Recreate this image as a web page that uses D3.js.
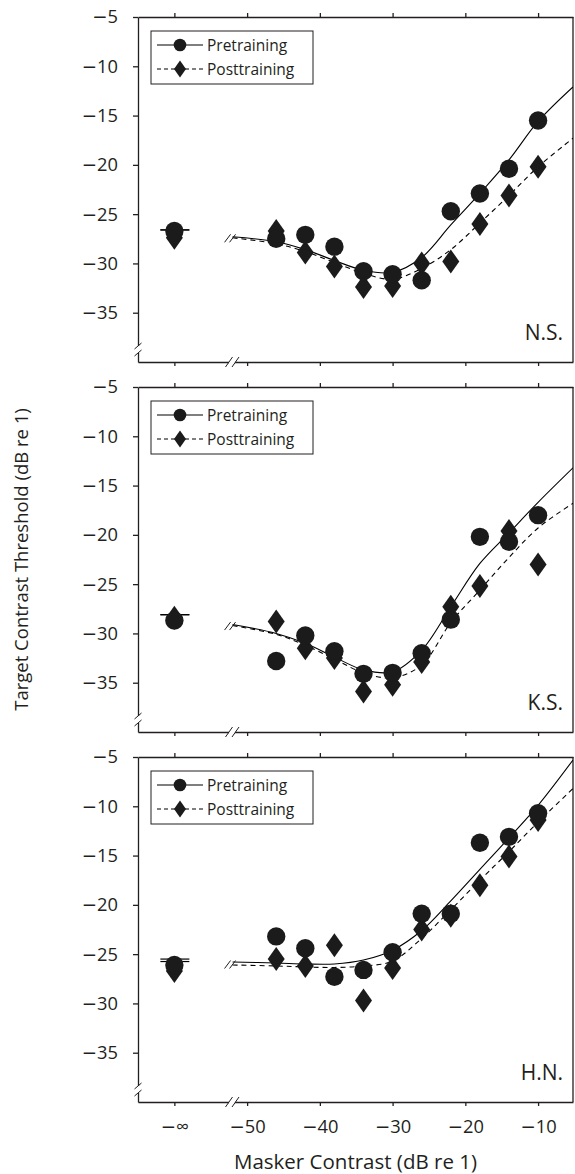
<!DOCTYPE html>
<html>
<head>
<meta charset="utf-8">
<script src="https://cdn.jsdelivr.net/npm/d3@7"></script>
<style>
  body { margin: 0; background: #fff; }
  text { font-family: "Open Sans", sans-serif; fill: #231f20; }
</style>
</head>
<body>
<div id="chart"></div>
<script>
// Data (dB re 1)
const subjects = ["N.S.", "K.S.", "H.N."];
const maskerContrast = [-46, -42, -38, -34, -30, -26, -22, -18, -14, -10];

const preNS  = [-27.5, -27.1, -28.3, -30.8, -31.1, -31.7, -24.7, -22.9, -20.4, -15.5];
const postNS = [-26.7, -28.9, -30.3, -32.4, -32.3, -30.0, -29.8, -26.0, -23.1, -20.2];
const preKS  = [-32.8, -30.2, -31.8, -34.1, -34.0, -32.0, -28.6, -20.2, -20.7, -18.0];
const postKS = [-28.8, -31.5, -32.5, -35.9, -35.2, -32.9, -27.3, -25.2, -19.6, -23.0];
const preHN  = [-23.2, -24.4, -27.3, -26.6, -24.8, -20.9, -20.9, -13.7, -13.1, -10.7];
const postHN = [-25.5, -26.2, -24.1, -29.7, -26.4, -22.5, -21.1, -18.0, -15.1, -11.4];

// thresholds with no masker (masker contrast −∞)
const preZero     = [-26.7, -28.7, -26.1];
const postZero    = [-27.4, -28.4, -26.7];
const preFitZero  = [-26.6, -28.1, -25.5];
const postFitZero = [-26.6, -28.1, -25.75];

// fitted curves
const fitContrast = [-52, -46, -42, -38, -34, -30, -26, -22, -18, -14, -10, -5.2];
const preFitNS  = [-27.3, -27.8, -28.6, -29.7, -30.7, -30.9, -29.4, -26.1, -22.9, -19.5, -15.6, -12.1];
const postFitNS = [-27.4, -28.0, -28.8, -29.9, -31.0, -31.6, -30.5, -28.6, -25.9, -23.1, -20.2, -17.3];
const preFitKS  = [-29.1, -30.0, -31.0, -32.4, -33.7, -33.9, -31.7, -27.3, -22.9, -19.8, -16.7, -13.2];
const postFitKS = [-29.2, -30.1, -31.2, -32.6, -34.0, -34.5, -33.2, -28.9, -25.6, -22.3, -19.3, -16.8];
const preFitHN  = [-25.8, -25.9, -26.0, -26.0, -25.6, -24.6, -22.6, -19.6, -16.4, -13.2, -9.9, -5.3];
const postFitHN = [-26.1, -26.2, -26.3, -26.35, -26.2, -25.7, -23.4, -20.5, -17.5, -14.6, -11.6, -8.2];

const preData  = [preNS, preKS, preHN];
const postData = [postNS, postKS, postHN];
const preFits  = [preFitNS, preFitKS, preFitHN];
const postFits = [postFitNS, postFitKS, postFitHN];

const infPos = -60;  // where −∞ sits on the x axis
const xTicks = [-60, -50, -40, -30, -20, -10];
const yTicks = [-35, -30, -25, -20, -15, -10, -5];

const width = 575, height = 1174;
const left = 138, right = 573;
const panelTop = 17, panelH = 345, panelStep = 370;
const ink = "#231f20", markFill = "#1b1b1b";

const svg = d3.select("#chart").append("svg")
  .attr("width", width).attr("height", height);

const x = d3.scaleLinear().domain([-65, -5.2]).range([left, right]);
const minus = v => "\u2212" + Math.abs(v);

// the figure's minus sign is long: draw it in DejaVu Sans
function longMinus(sel) {
  sel.selectAll(".tick text").each(function() {
    const t = d3.select(this), s = t.text();
    if (!s) return;
    t.text(null);
    t.append("tspan").attr("font-family", "DejaVu Sans").text(s[0]);
    t.append("tspan").text(s.slice(1));
  });
}

function diamond(g, cx, cy, hw, hh) {
  g.append("path")
    .attr("d", `M${cx},${cy - hh}L${cx + hw},${cy}L${cx},${cy + hh}L${cx - hw},${cy}Z`)
    .attr("fill", markFill);
}

function slash(g, cx, cy, dx, dy) {
  g.append("line")
    .attr("x1", cx - dx).attr("y1", cy + dy)
    .attr("x2", cx + dx).attr("y2", cy - dy)
    .attr("stroke", ink).attr("stroke-width", 1);
}

subjects.forEach(function(name, i) {
  const top = panelTop + i * panelStep, bottom = top + panelH;
  const y = d3.scaleLinear().domain([-40, -5]).range([bottom, top]);
  const g = svg.append("g");

  svg.append("clipPath").attr("id", "clip" + i)
    .append("rect").attr("x", left).attr("y", top)
    .attr("width", right - left).attr("height", panelH);

  // axes
  g.append("g")
    .attr("transform", `translate(0,${bottom})`)
    .call(d3.axisBottom(x).tickValues(xTicks).tickSize(4).tickSizeOuter(0).tickPadding(14)
      .tickFormat(i === 2 ? (d => d === infPos ? "\u2212\u221e" : minus(d)) : ""))
    .call(longMinus);
  g.append("g")
    .attr("transform", `translate(0,${top})`)
    .call(d3.axisTop(x).tickValues(xTicks).tickSize(4).tickSizeOuter(0).tickFormat(""));
  g.append("g")
    .attr("transform", `translate(${left},0)`)
    .call(d3.axisLeft(y).tickValues(yTicks).tickSize(5).tickSizeOuter(0).tickPadding(15)
      .tickFormat(minus))
    .call(longMinus);
  g.append("line")
    .attr("x1", right).attr("x2", right).attr("y1", top).attr("y2", bottom)
    .attr("stroke", ink).attr("stroke-width", 1.3);

  g.selectAll(".domain, .tick line").attr("stroke", ink).attr("stroke-width", 1.3);
  g.selectAll(".tick text").attr("font-family", "Open Sans").attr("font-size", 18.3)
    .attr("fill", ink);

  // axis breaks
  g.append("rect").attr("x", left - 2).attr("y", bottom - 16).attr("width", 4).attr("height", 7).attr("fill", "#fff");
  slash(g, left, bottom - 16, 3.5, 3);
  slash(g, left, bottom - 9, 3.5, 3);
  g.append("rect").attr("x", 229).attr("y", bottom - 2).attr("width", 6).attr("height", 4).attr("fill", "#fff");
  slash(g, 229, bottom, 3.5, 5);
  slash(g, 235.5, bottom, 3.5, 5);

  // fitted curves
  const line = d3.line()
    .x((d, k) => x(fitContrast[k]))
    .y(d => y(d))
    .curve(d3.curveCatmullRom.alpha(0.5));
  const curves = g.append("g").attr("clip-path", `url(#clip${i})`);
  curves.append("path").attr("d", line(preFits[i]))
    .attr("fill", "none").attr("stroke", "#000").attr("stroke-width", 1.1);
  curves.append("path").attr("d", line(postFits[i]))
    .attr("fill", "none").attr("stroke", "#000").attr("stroke-width", 1.1)
    .attr("stroke-dasharray", "5,4");
  const sy = y((preFits[i][0] + postFits[i][0]) / 2);
  slash(g, x(fitContrast[0]) - 5, sy + 1, 3, 4);
  slash(g, x(fitContrast[0]), sy + 1, 3, 4);

  // no-masker fit levels
  g.append("line").attr("x1", x(infPos) - 14).attr("x2", x(infPos) + 15)
    .attr("y1", y(preFitZero[i])).attr("y2", y(preFitZero[i]))
    .attr("stroke", "#000").attr("stroke-width", 1.2);
  g.append("line").attr("x1", x(infPos) - 14).attr("x2", x(infPos) + 15)
    .attr("y1", y(postFitZero[i])).attr("y2", y(postFitZero[i]))
    .attr("stroke", "#000").attr("stroke-width", 1.2);

  // markers
  const pts = g.append("g");
  postData[i].forEach((v, k) => diamond(pts, x(maskerContrast[k]), y(v), 8.5, 12));
  diamond(pts, x(infPos), y(postZero[i]), 8.5, 12);
  pts.selectAll("circle.pre")
    .data(preData[i].map((v, k) => [maskerContrast[k], v]).concat([[infPos, preZero[i]]]))
    .enter().append("circle")
      .attr("class", "pre")
      .attr("cx", d => x(d[0])).attr("cy", d => y(d[1]))
      .attr("r", 9.2).attr("fill", markFill);

  // subject label
  g.append("text").attr("x", 563).attr("y", bottom - 22)
    .attr("text-anchor", "end").attr("font-size", 21).text(name);

  // legend
  const lg = g.append("g").attr("transform", `translate(151,${top + 14})`);
  lg.append("rect").attr("width", 162).attr("height", 53)
    .attr("fill", "#fff").attr("stroke", ink).attr("stroke-width", 1);
  lg.append("line").attr("x1", 6).attr("x2", 52).attr("y1", 14).attr("y2", 14)
    .attr("stroke", "#000").attr("stroke-width", 1.1);
  lg.append("circle").attr("cx", 29).attr("cy", 14).attr("r", 6.3).attr("fill", markFill);
  lg.append("line").attr("x1", 6).attr("x2", 52).attr("y1", 38).attr("y2", 38)
    .attr("stroke", "#000").attr("stroke-width", 1.1).attr("stroke-dasharray", "4,3");
  diamond(lg, 29, 38, 6, 8.5);
  lg.append("text").attr("x", 56).attr("y", 19.5).attr("font-size", 15.5).text("Pretraining");
  lg.append("text").attr("x", 56).attr("y", 43.5).attr("font-size", 15.5).text("Posttraining");
});

// axis titles
svg.append("text")
  .attr("x", (left + right) / 2).attr("y", 1169)
  .attr("text-anchor", "middle").attr("font-size", 20.5)
  .text("Masker Contrast (dB re 1)");
svg.append("text")
  .attr("transform", `translate(28,${panelTop + (2 * panelStep + panelH) / 2}) rotate(-90)`)
  .attr("text-anchor", "middle").attr("font-size", 18.5)
  .text("Target Contrast Threshold (dB re 1)");
</script>
</body>
</html>
